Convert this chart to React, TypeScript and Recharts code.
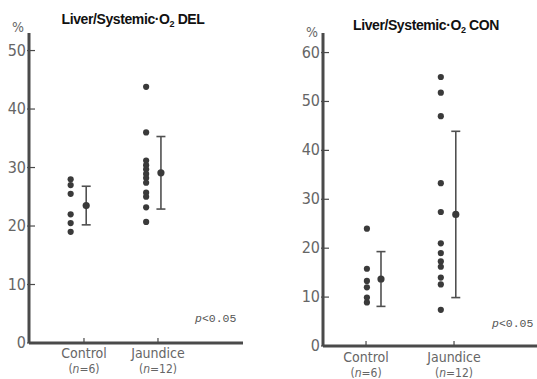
import { ScatterChart, Scatter, XAxis, YAxis, ErrorBar } from 'recharts';

// categories
const groups = ['Control', 'Jaundice'];
const groupN = ['6', '12'];

// Liver/Systemic O2 DEL (%)
const delControl = [28, 27, 25.5, 22, 20.5, 19];
const delJaundice = [43.8, 36, 31.2, 30.4, 29.7, 28.9, 28.2, 27.4, 25.7, 25.0, 23.2, 20.7];
const delMean = [23.5, 29.1];
const delSd = [3.3, 6.2];
const delTicks = [0, 10, 20, 30, 40, 50];

// Liver/Systemic O2 CON (%)
const conControl = [24, 15.8, 13.3, 12, 9.9, 8.9];
const conJaundice = [55, 51.8, 47, 33.3, 27.4, 21, 19, 17.3, 16.2, 14, 12.6, 7.4];
const conMean = [13.7, 26.9];
const conSd = [5.6, 17];
const conTicks = [0, 10, 20, 30, 40, 50, 60];

const axisColor = '#4a4a4a';
const tickFont = '"Liberation Sans Narrow", "DejaVu Sans Condensed", sans-serif';

const YTick = (props: any) => {
  const { x, y, payload } = props;
  return (
    <g>
      <line x1={x + 1} x2={x + 9} y1={y} y2={y} stroke={axisColor} strokeWidth={1.2} />
      <text x={x} y={y} dy={5} textAnchor="end" fontSize={16} fill="#666" fontFamily={tickFont}>
        {payload.value}
      </text>
    </g>
  );
};

const makeXTick = (labelDy: number) => (props: any) => {
  const { x, y, payload } = props;
  const i = Math.round(payload.value) - 1;
  return (
    <g>
      <line x1={x} x2={x} y1={y} y2={y - 5} stroke={axisColor} strokeWidth={1.2} />
      <text x={x} y={y + labelDy} textAnchor="middle" fontSize={14} fill="#666" fontFamily={tickFont}>
        {groups[i]}
      </text>
      <text x={x} y={y + labelDy + 15} textAnchor="middle" fontSize={12} fill="#666" fontFamily={tickFont}>
        (<tspan fontStyle="italic">n</tspan>={groupN[i]})
      </text>
    </g>
  );
};

const Dot = (props: any) => <circle cx={props.cx} cy={props.cy} r={3.1} fill="#3a3a3a" />;
const MeanDot = (props: any) => <circle cx={props.cx} cy={props.cy} r={3.6} fill="#3a3a3a" />;

type PanelProps = {
  left: number;
  width: number;
  yAxisWidth: number;
  rightMargin: number;
  xAxisHeight: number;
  xDomain: [number, number];
  yMax: number;
  ticks: number[];
  values: number[][];
  mean: number[];
  sd: number[];
  dotShift: number[];
  barShift: number[];
  labelDy: number;
};

function Panel(p: PanelProps) {
  const dots = p.values.flatMap((vals, g) => vals.map((v) => ({ x: g + 1 + p.dotShift[g], y: v })));
  const means = p.mean.map((m, g) => ({ x: g + 1 + p.barShift[g], y: m, err: p.sd[g] }));
  return (
    <div style={{ position: 'absolute', left: p.left, top: 0 }}>
      <ScatterChart width={p.width} height={379} margin={{ top: 33, right: p.rightMargin, bottom: 0, left: 0 }}>
        <XAxis
          type="number"
          dataKey="x"
          domain={p.xDomain}
          ticks={[1, 2]}
          allowDataOverflow
          height={p.xAxisHeight}
          tickSize={0}
          tickMargin={0}
          tickLine={false}
          axisLine={{ stroke: axisColor, strokeWidth: 3 }}
          tick={makeXTick(p.labelDy)}
        />
        <YAxis
          type="number"
          dataKey="y"
          domain={[0, p.yMax]}
          ticks={p.ticks}
          allowDataOverflow
          width={p.yAxisWidth}
          tickSize={0}
          tickMargin={3}
          tickLine={false}
          axisLine={{ stroke: axisColor, strokeWidth: 3 }}
          tick={<YTick />}
        />
        <Scatter data={dots} shape={<Dot />} isAnimationActive={false} />
        <Scatter data={means} shape={<MeanDot />} isAnimationActive={false}>
          <ErrorBar dataKey="err" direction="y" width={4.5} stroke="#505050" strokeWidth={1.6} />
        </Scatter>
      </ScatterChart>
    </div>
  );
}

const titleFont = '"Liberation Sans", Arial, sans-serif';

function Title({ x, y, suffix }: { x: number; y: number; suffix: string }) {
  return (
    <text x={x} y={y} textAnchor="middle" fontSize={14} fontWeight="bold" letterSpacing={-0.4} fill="#111" fontFamily={titleFont}>
      Liver/Systemic·O
      <tspan fontSize={9} dy={3}>2</tspan>
      <tspan dy={-3}> {suffix}</tspan>
    </text>
  );
}

function PValue({ x, y }: { x: number; y: number }) {
  return (
    <text x={x} y={y} fontSize={11.5} fill="#555" fontFamily='"Liberation Mono", "DejaVu Sans Mono", monospace'>
      <tspan fontStyle="italic">p</tspan>&lt;0.05
    </text>
  );
}

export default function App() {
  return (
    <div style={{ position: 'absolute', left: 0, top: 0, width: 537, height: 379, background: '#fff', overflow: 'hidden' }}>
      <Panel
        left={0}
        width={270}
        yAxisWidth={29}
        rightMargin={27}
        xAxisHeight={36}
        xDomain={[0.257, 3.149]}
        yMax={53}
        ticks={delTicks}
        values={[delControl, delJaundice]}
        mean={delMean}
        sd={delSd}
        dotShift={[-0.18, -0.16]}
        barShift={[0.03, 0.04]}
        labelDy={15}
      />
      <Panel
        left={270}
        width={267}
        yAxisWidth={53}
        rightMargin={0}
        xAxisHeight={33}
        xDomain={[0.511, 2.943]}
        yMax={64}
        ticks={conTicks}
        values={[conControl, conJaundice]}
        mean={conMean}
        sd={conSd}
        dotShift={[0.01, -0.15]}
        barShift={[0.17, 0.02]}
        labelDy={16}
      />
      <svg width={537} height={379} style={{ position: 'absolute', left: 0, top: 0, pointerEvents: 'none' }}>
        <Title x={133} y={24} suffix="DEL" />
        <Title x={426} y={30} suffix="CON" />
        <text x={12} y={32} fontSize={14} fill="#666" fontFamily={tickFont}>%</text>
        <text x={306} y={37} fontSize={14} fill="#666" fontFamily={tickFont}>%</text>
        <PValue x={195} y={322} />
        <PValue x={492} y={327} />
      </svg>
    </div>
  );
}
